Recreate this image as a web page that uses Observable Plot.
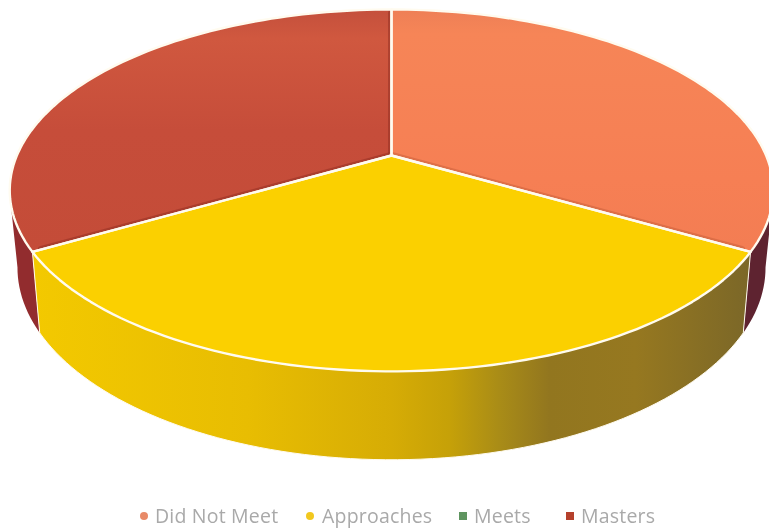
<!DOCTYPE html>
<html>
<head>
<meta charset="utf-8">
<script src="https://cdn.jsdelivr.net/npm/d3@7"></script>
<script src="https://cdn.jsdelivr.net/npm/@observablehq/plot@0.6"></script>
<style>
  html, body { margin: 0; padding: 0; background: #fff; overflow: hidden; }
  #legend {
    position: relative; height: 29px; width: 769px;
    font: 19.5px "Open Sans", sans-serif; color: #a9a9a9; letter-spacing: 0.2px;
    filter: blur(0.5px);
  }
  #legend span { position: absolute; top: 2px; line-height: 28px; white-space: nowrap; }
  #legend i { position: absolute; top: 12px; width: 8px; height: 8px; }
</style>
</head>
<body>
<div id="chart"></div>
<div id="legend"></div>
<script>
// Share of students at each performance level
const categories = ["Did Not Meet", "Approaches", "Meets", "Masters"];
const shares = [33.3, 33.3, 0, 33.3];
const faceFills = ["url(#faceDidNotMeet)", "#fbd000", "#6a9a5b", "url(#faceMasters)"];
const swatches = ["#e88a68", "#f2c81e", "#5f9560", "#b5402c"];
const swatchRadius = ["50%", "50%", "0", "0"];
const legendSwatchX = [140, 306, 459, 566];
const legendTextX = [155, 322, 474, 581];

// Tilted disc: circle points pass through a perspective divide
const tilt = -0.193;
const topFace = {cx: 391, cy: 155, rx: 374.6, ry: 174.2};
const baseFace = {cx: 391, cy: 230, rx: 367, ry: 185};
const edgeColor = "#fffbef";

function project(face, angle) {
  const c = Math.sin(angle), s = -Math.cos(angle), w = 1 + tilt * s;
  return {x: face.cx + face.rx * c / w, y: face.cy + face.ry * s / w};
}
const deg = (d) => d * Math.PI / 180;
const arc = (face, a0, a1) => {
  const n = Math.max(2, Math.ceil(Math.abs(a1 - a0) / deg(1.5)));
  return d3.range(n + 1).map((i) => project(face, a0 + (a1 - a0) * i / n));
};
const pie = d3.pie().sort(null)(shares);
const apex = {x: topFace.cx, y: topFace.cy};

// Face wedge: apex, outer arc, back to apex
const wedge = (p) => [apex, ...arc(topFace, p.startAngle, p.endAngle), apex];
// Wall band between the top rim and the base rim
const wall = (topFrom, topTo, baseFrom, baseTo) => {
  const pts = [...arc(topFace, topFrom, topTo), ...arc(baseFace, baseTo, baseFrom)];
  return [...pts, pts[0]];
};
// Spoke from the apex toward the rim, stopping just short of it
const spoke = (angle) => {
  const rim = project(topFace, angle);
  return [apex, {x: apex.x + (rim.x - apex.x) * 0.975, y: apex.y + (rim.y - apex.y) * 0.975}];
};
const [first, second, , last] = pie;

const defs = () => {
  const d = d3.create("svg:defs");
  const grad = (id, x2, y2, stops) => {
    const g = d.append("linearGradient").attr("id", id)
      .attr("x1", 0).attr("y1", 0).attr("x2", x2).attr("y2", y2);
    stops.forEach(([o, c]) => g.append("stop").attr("offset", o).attr("stop-color", c));
  };
  grad("wallYellow", 1, 0, [
    [0, "#f3c900"], [0.3, "#e8bd02"], [0.5, "#d6ac05"], [0.58, "#c6a108"],
    [0.65, "#a98c17"], [0.72, "#92761f"], [0.84, "#967820"], [1, "#7b6728"]
  ]);
  grad("faceMasters", 0, 1, [
    [0, "#c4503c"], [0.12, "#d0583f"], [0.5, "#c64d3a"], [1, "#c44c38"]
  ]);
  grad("faceDidNotMeet", 0, 1, [
    [0, "#ee7f56"], [0.1, "#f68557"], [0.7, "#f67f54"], [1, "#f37d53"]
  ]);
  return d.node();
};

const polygon = (points, fill, stroke = "none", strokeWidth = 0) =>
  Plot.line(points, {x: "x", y: "y", fill, stroke, strokeWidth, strokeLinejoin: "round"});
const shade = (points, stroke) =>
  Plot.line(points, {x: "x", y: "y", stroke, strokeWidth: 7, strokeOpacity: 0.45});

const chart = Plot.plot({
  width: 769,
  height: 500,
  margin: 0,
  x: {type: "identity", axis: null},
  y: {type: "identity", axis: null},
  marks: [
    defs,
    // Walls visible at the front of the disc
    polygon(wall(deg(255), last.startAngle, deg(259), last.startAngle), "#922c2e"),
    polygon(wall(deg(105), first.endAngle, deg(101), first.endAngle), "#5e2330"),
    polygon(wall(second.startAngle, second.endAngle, second.startAngle, second.endAngle), "url(#wallYellow)", edgeColor, 1),
    // Top faces, painted back to front so the soft creases stay under their neighbours
    polygon(wedge(last), faceFills[last.index]),
    shade(spoke(last.startAngle), "#8a2a20"),
    shade(spoke(last.endAngle), "#8a2a20"),
    polygon(wedge(first), faceFills[first.index]),
    shade(spoke(first.endAngle), "#c05a38"),
    polygon(wedge(second), faceFills[second.index]),
    // Light seams along every non-empty wedge
    ...pie.filter((p) => p.value > 0).map((p) =>
      polygon(wedge(p), "none", edgeColor, 2.4)
    )
  ]
});
document.getElementById("chart").append(chart);

const legend = d3.select("#legend");
categories.forEach((name, i) => {
  legend.append("i")
    .style("left", legendSwatchX[i] + "px")
    .style("background", swatches[i])
    .style("border-radius", swatchRadius[i]);
  legend.append("span").style("left", legendTextX[i] + "px").text(name);
});
</script>
</body>
</html>
